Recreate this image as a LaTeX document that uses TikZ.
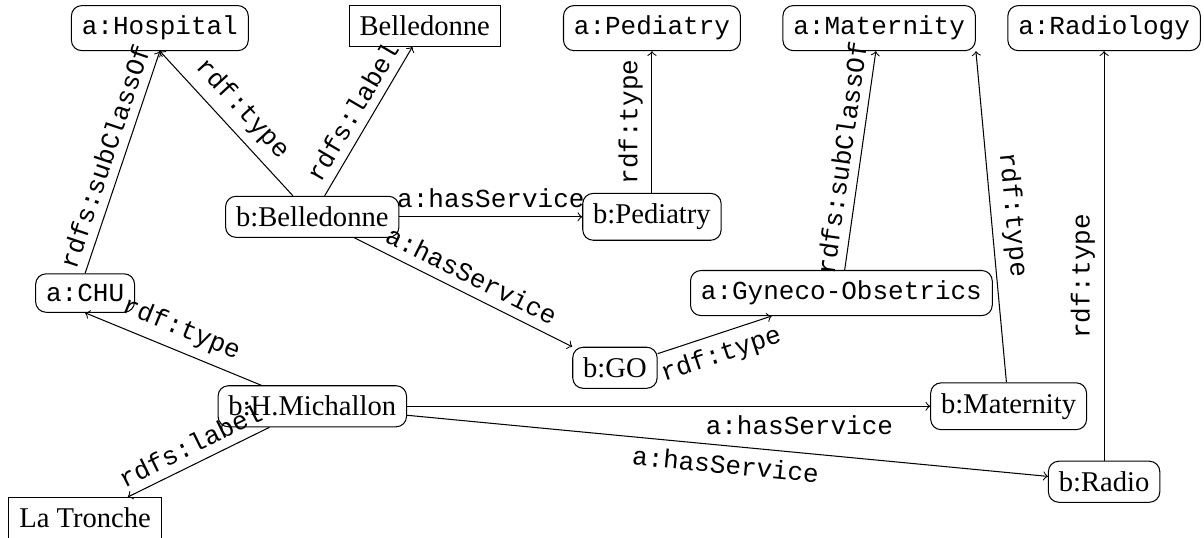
\documentclass[tikz,border=0pt]{standalone}
\usepackage{fontspec}
\setmainfont{Liberation Serif}
\setmonofont{Liberation Mono}
\usepackage{tikz}

\begin{document}
\begin{tikzpicture}[
	classnode/.style={draw=black, rounded corners, inner sep=4pt, font=\fontsize{10}{12}\ttfamily},
	instnode/.style={draw=black, rounded corners, inner sep=4pt, font=\fontsize{11}{13}\selectfont},
	litnode/.style={draw=black, inner sep=4pt, font=\fontsize{11}{13}\selectfont},
	prop/.style={font=\fontsize{10}{12}\ttfamily, sloped}
	]
	
	\useasboundingbox (0, 0) rectangle (16.27, 7.27);
	
	\node[classnode] (hospital) at (2.16, 6.89)     {a:Hospital};
	\node[litnode] (belledonne) at (5.74, 6.92)     {Belledonne};
	\node[classnode] (apediatry) at (8.81, 6.89)     {a:Pediatry};
	\node[classnode] (amaternity) at (11.88, 6.89)     {a:Maternity};
	\node[classnode] (aradiology) at (14.92, 6.89)     {a:Radiology};
	\node[instnode] (bbelledonne) at (4.22, 4.34)     {b:Belledonne};
	\node[instnode] (bpediatry) at (8.81, 4.34)     {b:Pediatry};
	\node[classnode] (achu) at (1.15, 3.31)     {a:CHU};
	\node[classnode] (agyneco) at (11.37, 3.31)     {a:Gyneco-Obsetrics};
	\node[instnode] (bgo) at (8.31, 2.30)     {b:GO};
	\node[instnode] (bmichallon) at (4.22, 1.78)     {b:H.Michallon};
	\node[instnode] (bmaternity) at (13.63, 1.78)     {b:Maternity};
	\node[instnode] (bradio) at (14.92, 0.76)     {b:Radio};
	\node[litnode] (latronche) at (1.15, 0.27)     {La Tronche};
	
	\path[->] (bbelledonne) edge node[prop, above] {rdf:type} (hospital.south);
	\path[->] (bbelledonne) edge node[prop, above] {rdfs:label} (belledonne);
	\path[->] (bbelledonne) edge node[prop, above] {a:hasService} (bpediatry);
	\path[->] (bbelledonne) edge node[prop, above] {a:hasService} (bgo.north west);
	
	\path[->] (achu.north) edge node[prop, above] {rdfs:subClassOf} (hospital.south);
	\path[->] (bpediatry) edge node[prop, above] {rdf:type} (apediatry);
	\path[->] (bgo) edge node[prop, below] {rdf:type} (agyneco);
	\path[->] (agyneco) edge node[prop, above] {rdfs:subClassOf} (amaternity);
	\path[->] (bmaternity) edge node[prop, above] {rdf:type} (amaternity.south east);
	\path[->] (bradio) edge node[prop, above, pos=0.45] {rdf:type} (aradiology);
	
	\path[->] (bmichallon) edge node[prop, above] {rdf:type} (achu.south);
	\path[->] (bmichallon) edge node[prop, below, pos=0.75] {a:hasService} (bmaternity);
	\path[->] (bmichallon) edge node[prop, below] {a:hasService} (bradio);
	\path[->] (bmichallon) edge node[prop, above] {rdfs:label} (latronche);
	
\end{tikzpicture}
\end{document}
